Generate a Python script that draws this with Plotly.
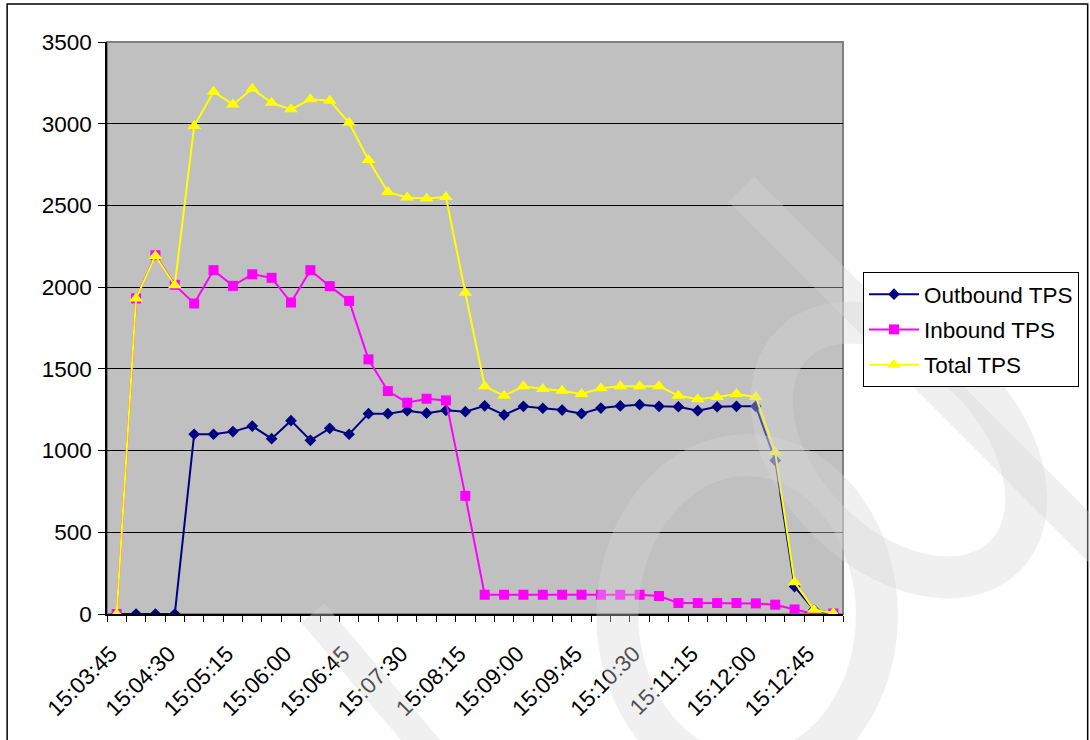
import math
import plotly.graph_objects as go

times = ["15:03:45", "15:04:00", "15:04:15", "15:04:30", "15:04:45", "15:05:00", "15:05:15",
         "15:05:30", "15:05:45", "15:06:00", "15:06:15", "15:06:30", "15:06:45", "15:07:00",
         "15:07:15", "15:07:30", "15:07:45", "15:08:00", "15:08:15", "15:08:30", "15:08:45",
         "15:09:00", "15:09:15", "15:09:30", "15:09:45", "15:10:00", "15:10:15", "15:10:30",
         "15:10:45", "15:11:00", "15:11:15", "15:11:30", "15:11:45", "15:12:00", "15:12:15",
         "15:12:30", "15:12:45", "15:13:00"]

outbound_tps = [0, 0, 0, 0, 1100, 1100, 1116, 1150, 1073, 1183, 1063, 1136, 1100, 1226,
                1226, 1244, 1229, 1246, 1238, 1274, 1218, 1271, 1259, 1248, 1226, 1260,
                1273, 1281, 1271, 1268, 1244, 1268, 1271, 1271, 940, 168, 26, 4]

inbound_tps = [0, 1931, 2195, 2014, 1900, 2104, 2008, 2079, 2057, 1906, 2104, 2006, 1916,
               1558, 1364, 1293, 1317, 1307, 723, 118, 118, 118, 118, 118, 118, 118, 118,
               118, 110, 67, 67, 67, 67, 65, 57, 28, 0, 3]

total_tps = [0, 1931, 2191, 2012, 2986, 3196, 3118, 3214, 3128, 3088, 3149, 3141, 3006,
             2778, 2582, 2548, 2542, 2552, 1965, 1393, 1336, 1393, 1377, 1366, 1346, 1381,
             1393, 1393, 1393, 1336, 1314, 1328, 1346, 1328, 990, 195, 26, 6]

label_step = 3
tick_text = [t if i % label_step == 0 else "" for i, t in enumerate(times)]

FONT = "Liberation Sans, Arial, sans-serif"
FS = 22.5

fig = go.Figure()
fig.add_trace(go.Scatter(
    x=times, y=outbound_tps, name="Outbound TPS", mode="lines+markers",
    line=dict(color="#000080", width=2),
    marker=dict(symbol="diamond", size=9, color="#000080"),
    legendgroup="a"))
fig.add_trace(go.Scatter(
    x=times, y=inbound_tps, name="Inbound TPS", mode="lines+markers",
    line=dict(color="#FF00FF", width=2),
    marker=dict(symbol="square", size=10, color="#FF00FF"),
    legendgroup="b"))
fig.add_trace(go.Scatter(
    x=times, y=total_tps, name="Total TPS", mode="lines+markers",
    line=dict(color="#FFFF00", width=2),
    marker=dict(symbol="triangle-up", size=12, color="#FFFF00"),
    legendgroup="c"))

L, R, T, B = 107, 246, 42, 126
W, H = 1090, 740
pw = W - L - R
ph = H - T - B


def px_x(p):
    return (p - L) / pw


def px_y(p):
    return (H - B - p) / ph


def pth(points, closed=False):
    s = "M" + " L".join(f"{px_x(x):.4f},{px_y(y):.4f}" for x, y in points)
    return s + (" Z" if closed else "")


def ellipse_pts(cx, cy, a, b, ang_deg, n=72):
    ang = math.radians(ang_deg)
    pts = []
    for k in range(n + 1):
        t = 2 * math.pi * k / n
        ux, vy = a * math.cos(t), b * math.sin(t)
        pts.append((cx + ux * math.cos(ang) - vy * math.sin(ang),
                    cy + ux * math.sin(ang) + vy * math.cos(ang)))
    return pts


WM = "rgba(214,214,214,0.37)"

shapes = [
    # outer chart frame
    dict(type="rect", xref="paper", yref="paper",
         x0=px_x(7), x1=px_x(1089), y0=px_y(760), y1=px_y(4),
         line=dict(color="black", width=1.5), layer="below"),
    # plot area border
    dict(type="rect", xref="paper", yref="paper", x0=0, x1=1, y0=0, y1=1,
         line=dict(color="#808080", width=2), layer="below"),
    # faint watermark strokes
    dict(type="path", xref="paper", yref="paper", layer="above",
         path=pth([(742, 189), (1115, 562)]), line=dict(color=WM, width=36)),
    dict(type="path", xref="paper", yref="paper", layer="above",
         path=pth([(313, 613), (438, 760)]), line=dict(color=WM, width=30)),
    dict(type="path", xref="paper", yref="paper", layer="above",
         path=pth(ellipse_pts(900, 450, 150, 100, 45), closed=True),
         line=dict(color=WM, width=42)),
    dict(type="path", xref="paper", yref="paper", layer="above",
         path=pth(ellipse_pts(748, 615, 130, 160, 0), closed=True),
         line=dict(color=WM, width=42)),
]

fig.update_layout(
    width=W, height=H,
    margin=dict(l=L, r=R, t=T, b=B, pad=0),
    paper_bgcolor="white",
    plot_bgcolor="#C0C0C0",
    font=dict(family=FONT, size=FS, color="black"),
    showlegend=True,
    legend=dict(
        x=px_x(863), y=px_y(272), xanchor="left", yanchor="top",
        bgcolor="white", bordercolor="black", borderwidth=1,
        font=dict(family=FONT, size=FS, color="black"),
        traceorder="grouped", tracegroupgap=3, itemwidth=50,
    ),
    shapes=shapes,
)

fig.update_xaxes(
    type="category", categoryorder="array", categoryarray=times,
    range=[-0.5, len(times) - 0.5],
    tickmode="array", tickvals=times, ticktext=tick_text,
    tickson="boundaries", ticks="outside", ticklen=6, tickcolor="black", tickwidth=1,
    tickangle=-45, tickfont=dict(family=FONT, size=FS, color="black"),
    ticklabelstandoff=16, ticklabelshift=-6,
    showline=True, linecolor="black", linewidth=1.5,
    showgrid=False, zeroline=False,
)
fig.update_yaxes(
    range=[0, 3500], dtick=500, tick0=0,
    ticks="outside", ticklen=7, tickcolor="black", tickwidth=1,
    tickfont=dict(family=FONT, size=FS, color="black"),
    ticklabelstandoff=2,
    showline=True, linecolor="black", linewidth=1.5,
    showgrid=True, gridcolor="black", gridwidth=1,
    zeroline=False,
)

fig.write_html("out.html")
